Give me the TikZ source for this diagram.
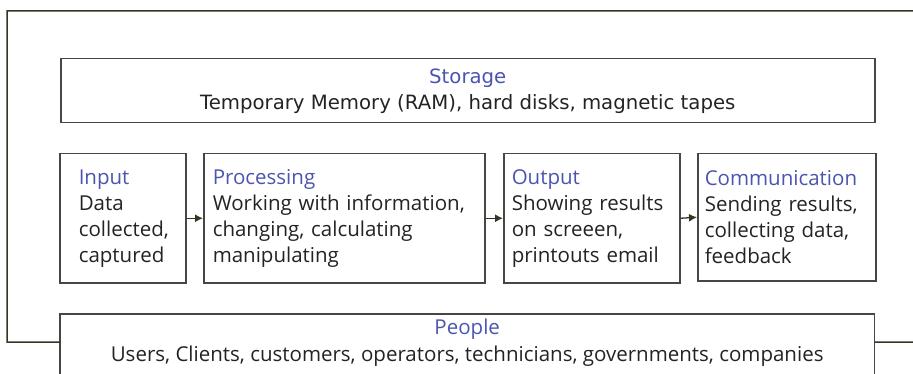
\documentclass[tikz,border=0pt]{standalone}
\usepackage{fontspec}
\setmainfont{Open Sans}
\newfontfamily\verd{DejaVu Sans}
\usetikzlibrary{arrows.meta,calc}
\definecolor{ttl}{RGB}{75,85,175}
\definecolor{txt}{RGB}{35,35,35}
\definecolor{frm}{RGB}{55,52,35}
\definecolor{bxc}{RGB}{70,70,70}
\begin{document}
\begin{tikzpicture}[x=1pt,y=-1pt,
  stagebox/.style={draw=bxc, line width=1.5pt, anchor=north west, align=left,
    inner ysep=0pt, font=\fontsize{20.5}{26}\selectfont, text=txt},
  widebox/.style={anchor=north west, align=center, inner sep=0pt, text=txt,
    minimum width=814pt},
  frameline/.style={draw=frm, line width=1.5pt},
  arr/.style={draw=frm, line width=1.3pt, -{Latex[length=8pt,width=8pt]}}]
\useasboundingbox (0,0) rectangle (913,374);
% storage
\node[widebox, draw=bxc, line width=1.5pt, minimum height=64pt,
  font=\verd\fontsize{19.7}{26}\selectfont] (storage) at (60,58)
  {\textcolor{ttl}{Storage}\\Temporary Memory (RAM), hard disks, magnetic tapes};
% stages
\node[stagebox, inner xsep=19pt, text width=88pt, minimum height=129pt] (input) at (59,153)
  {\textcolor{ttl}{Input}\\Data\\collected,\\captured};
\node[stagebox, inner xsep=9pt, text width=263pt, minimum height=129pt] (proc) at (203,153)
  {\textcolor{ttl}{Processing}\\Working with information,\\changing, calculating\\manipulating};
\node[stagebox, inner xsep=8pt, text width=160pt, minimum height=129pt] (output) at (503,153)
  {\textcolor{ttl}{Output}\\Showing results\\on screeen,\\printouts email};
\node[stagebox, inner xsep=7pt, text width=164pt, minimum height=127pt] (comm) at (697,153)
  {\textcolor{ttl}{Communication}\\Sending results,\\collecting data,\\feedback};
\draw[arr] (input.east) -- (proc.west);
\draw[arr] (proc.east) -- (output.west);
\draw[arr] (output.east) -- (comm.west);
% people
\node[widebox, minimum height=56pt, font=\fontsize{20.5}{27}\selectfont] (people) at (60,314)
  {\textcolor{ttl}{People}\\Users, Clients, customers, operators, technicians, governments, companies};
\draw[draw=bxc, line width=1.5pt] ($(people.south west)+(0,30)$) -- (people.north west)
  -- (people.north east) -- ($(people.south east)+(0,30)$);
% outer frame
\coordinate (tr) at (913,11);
\coordinate (fl) at (7,342);
\coordinate (br) at (913,342);
\draw[frameline] (tr) -| (fl) -- (people.west);
\draw[frameline] (people.east) -- (br);
\end{tikzpicture}
\end{document}
